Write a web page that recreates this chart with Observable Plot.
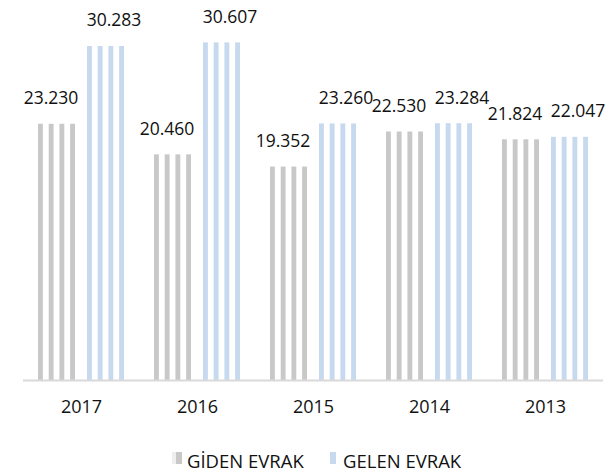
<!DOCTYPE html>
<html>
<head>
<meta charset="utf-8">
<script src="https://cdn.jsdelivr.net/npm/d3@7"></script>
<script src="https://cdn.jsdelivr.net/npm/@observablehq/plot@0.6"></script>
<style>
  html, body { margin: 0; padding: 0; background: #fff; }
  #wrap { position: relative; width: 611px; height: 472px; font-family: "Open Sans", sans-serif; color: #111; }
  .item { position: absolute; top: 451px; height: 20px; line-height: 20px; font-size: 18.5px; white-space: nowrap; }
  .sw { position: absolute; top: 1px; width: 6px; height: 12px; }
  .lbl { position: absolute; top: 0; }
</style>
</head>
<body>
<div id="wrap"></div>
<script>
const years = ["2017", "2016", "2015", "2014", "2013"];
const seriesNames = ["GİDEN EVRAK", "GELEN EVRAK"];
const gidenValues = [23230, 20460, 19352, 22530, 21824];
const gelenValues = [30283, 30607, 23260, 23284, 22047];
const seriesColors = ["#c8c8c8", "#c6d9ee"];

const data = [];
years.forEach((y, i) => {
  data.push({year: y, series: seriesNames[0], value: gidenValues[i]});
  data.push({year: y, series: seriesNames[1], value: gelenValues[i]});
});

const fmt = d3.formatLocale({decimal: ",", thousands: ".", grouping: [3], currency: ["", ""]}).format(",");

const chart = Plot.plot({
  width: 611,
  height: 430,
  marginLeft: 21,
  marginRight: 6,
  marginTop: 5,
  marginBottom: 50,
  style: {fontFamily: "Open Sans, sans-serif", fontSize: "17.5px", color: "#111", background: "white"},
  fx: {domain: years, padding: 0, label: null},
  x: {domain: seriesNames, paddingInner: 0.24, paddingOuter: 0.288, axis: null},
  y: {domain: [0, 34000], axis: null},
  color: {domain: seriesNames, range: ["url(#stripeGray)", "url(#stripeBlue)"]},
  marks: [
    Plot.axisFx({anchor: "bottom", tickSize: 0, tickPadding: 20, fontSize: 18, label: null}),
    Plot.barY(data, {fx: "year", x: "series", y: "value", fill: "series"}),
    Plot.ruleY([0], {stroke: "#d9d9d9", strokeWidth: 2}),
    Plot.text(data.filter(d => d.series === seriesNames[0]), {fx: "year", x: "series", y: "value", text: d => fmt(d.value), lineAnchor: "bottom", dy: -20, dx: -6, fill: "#111", fontSize: 17.5}),
    Plot.text(data.filter(d => d.series === seriesNames[1]), {fx: "year", x: "series", y: "value", text: d => fmt(d.value), lineAnchor: "bottom", dy: -20, dx: 8, fill: "#111", fontSize: 17.5})
  ]
});

// stripe patterns (4 vertical stripes per bar)
const ns = "http://www.w3.org/2000/svg";
const defs = document.createElementNS(ns, "defs");
[["stripeGray", seriesColors[0]], ["stripeBlue", seriesColors[1]]].forEach(([id, c]) => {
  const p = document.createElementNS(ns, "pattern");
  p.setAttribute("id", id);
  p.setAttribute("patternUnits", "objectBoundingBox");
  p.setAttribute("patternContentUnits", "objectBoundingBox");
  p.setAttribute("width", 11 / 38);
  p.setAttribute("height", 1);
  const r = document.createElementNS(ns, "rect");
  r.setAttribute("width", 5 / 38);
  r.setAttribute("height", 1);
  r.setAttribute("fill", c);
  p.appendChild(r);
  defs.appendChild(p);
});
chart.insertBefore(defs, chart.firstChild);

const wrap = document.getElementById("wrap");
wrap.appendChild(chart);

// legend below the chart
const legendLeft = [172, 330];
const swatchOffset = [4, 0];
const textOffset = [15, 13];
seriesNames.forEach((name, i) => {
  const item = document.createElement("div");
  item.className = "item";
  item.style.left = legendLeft[i] + "px";
  if (i === 0) {
    const faint = document.createElement("div");
    faint.className = "sw";
    faint.style.left = "0px";
    faint.style.width = "4px";
    faint.style.background = "#eeeeee";
    item.appendChild(faint);
  }
  const sw = document.createElement("div");
  sw.className = "sw";
  sw.style.left = swatchOffset[i] + "px";
  sw.style.background = seriesColors[i];
  const label = document.createElement("span");
  label.className = "lbl";
  label.style.left = textOffset[i] + "px";
  label.textContent = name;
  item.appendChild(sw);
  item.appendChild(label);
  wrap.appendChild(item);
});
</script>
</body>
</html>
